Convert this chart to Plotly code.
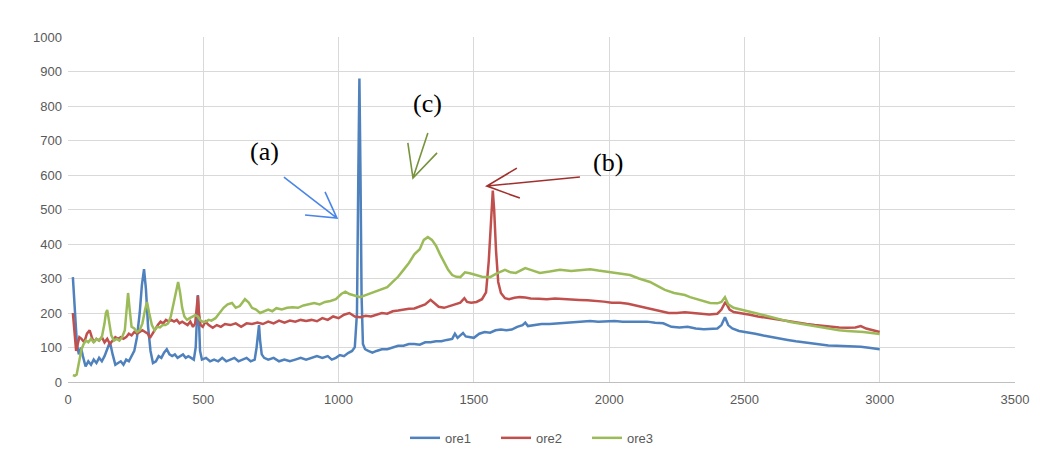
import plotly.graph_objects as go

# ---------------- data ----------------
ore1_x = [18, 26, 33, 40, 48, 55, 65, 75, 85, 95, 105, 115, 125, 135, 145, 155, 165, 175, 185, 195,
          205, 215, 225, 235, 245, 255, 265, 273, 281, 288, 296, 305, 314, 325, 335, 345, 355, 365, 375, 385,
          395, 405, 415, 425, 435, 445, 455, 465, 472, 477, 480, 484, 488, 495, 510, 525, 540, 555, 570, 585,
          600, 615, 630, 645, 660, 675, 690, 697, 702, 706, 710, 716, 725, 740, 760, 780, 800, 820, 840, 860,
          880, 900, 920, 940, 960, 975, 990, 1005, 1020, 1035, 1050, 1060, 1068, 1073, 1077, 1081, 1085, 1090, 1098, 1110,
          1125, 1140, 1160, 1180, 1200, 1220, 1240, 1260, 1280, 1300, 1320, 1340, 1360, 1380, 1400, 1420, 1430, 1440, 1450, 1460,
          1470, 1480, 1500, 1520, 1540, 1560, 1580, 1600, 1620, 1640, 1660, 1680, 1690, 1700, 1720, 1750, 1780, 1810, 1840, 1870,
          1900, 1930, 1960, 1990, 2020, 2050, 2080, 2110, 2140, 2170, 2200, 2230, 2260, 2290, 2320, 2350, 2380, 2400, 2415, 2428,
          2440, 2455, 2480, 2510, 2540, 2570, 2600, 2630, 2660, 2690, 2720, 2750, 2780, 2810, 2840, 2870, 2900, 2930, 2960, 3000]
ore1_y = [304, 200, 110, 80, 100, 75, 45, 60, 50, 65, 55, 70, 60, 75, 95, 116, 80, 50, 55, 60,
          50, 65, 60, 75, 90, 130, 200, 280, 327, 270, 160, 90, 55, 60, 75, 70, 85, 95, 80, 75,
          80, 70, 75, 80, 70, 75, 70, 65, 100, 200, 252, 180, 90, 65, 70, 60, 65, 60, 70, 60,
          65, 70, 60, 65, 70, 60, 65, 100, 150, 165, 120, 80, 70, 65, 70, 60, 65, 60, 65, 70,
          65, 70, 75, 70, 75, 65, 70, 78, 75, 84, 90, 101, 200, 600, 880, 600, 250, 110, 95, 90,
          85, 90, 95, 95, 100, 105, 105, 110, 110, 108, 115, 115, 118, 118, 122, 125, 140, 128, 135, 142,
          132, 130, 128, 140, 145, 143, 150, 152, 150, 152, 160, 165, 172, 162, 165, 168, 168, 170, 172, 175,
          177, 177, 175, 177, 177, 175, 175, 177, 175, 172, 170, 160, 158, 160, 155, 153, 153, 155, 165, 188,
          165, 155, 148, 145, 140, 135, 130, 125, 122, 118, 115, 110, 107, 106, 105, 104, 105, 102, 99, 95]

ore2_x = [18, 24, 30, 36, 42, 50, 60, 70, 80, 88, 95, 105, 115, 125, 135, 145, 155, 165, 175, 185,
          195, 205, 215, 225, 235, 245, 255, 265, 275, 285, 295, 303, 312, 322, 332, 342, 352, 362, 372, 382,
          392, 402, 412, 422, 432, 442, 452, 462, 470, 476, 480, 484, 490, 498, 508, 520, 535, 550, 565, 580,
          600, 620, 640, 660, 680, 700, 720, 740, 760, 780, 800, 820, 840, 860, 880, 900, 920, 940, 960, 980,
          1000, 1020, 1040, 1050, 1060, 1080, 1100, 1120, 1140, 1160, 1180, 1200, 1220, 1240, 1260, 1280, 1300, 1320, 1340, 1355,
          1370, 1390, 1410, 1430, 1450, 1465, 1475, 1490, 1510, 1530, 1545, 1555, 1565, 1570, 1575, 1582, 1590, 1600, 1615, 1630,
          1650, 1670, 1690, 1710, 1740, 1770, 1800, 1830, 1860, 1890, 1920, 1950, 1980, 2010, 2040, 2070, 2100, 2130, 2160, 2190,
          2220, 2250, 2280, 2310, 2340, 2370, 2400, 2415, 2430, 2445, 2460, 2490, 2520, 2550, 2580, 2610, 2640, 2670, 2700, 2730,
          2760, 2790, 2820, 2850, 2880, 2910, 2930, 2950, 2975, 3000]
ore2_y = [200, 150, 90, 110, 130, 125, 115, 140, 150, 130, 115, 125, 120, 130, 115, 125, 110, 120, 130, 125,
          130, 125, 130, 140, 135, 145, 140, 145, 150, 145, 140, 128, 140, 155, 165, 175, 170, 180, 175, 180,
          175, 180, 170, 175, 170, 165, 175, 160, 170, 220, 250, 200, 165, 160, 175, 165, 157, 165, 160, 168,
          165, 170, 160, 170, 168, 172, 168, 175, 170, 178, 172, 178, 175, 180, 177, 180, 176, 185, 180, 190,
          185, 195, 200, 195, 190, 188, 192, 190, 195, 200, 198, 205, 207, 210, 212, 213, 218, 225, 238, 228,
          218, 215, 220, 225, 230, 243, 232, 230, 232, 240, 260, 350, 500, 555, 500, 380, 290, 258, 243, 240,
          244, 246, 245, 242, 241, 240, 242, 240, 240, 238, 237, 236, 233, 230, 230, 227, 222, 217, 210, 205,
          200, 200, 202, 200, 197, 196, 198, 210, 232, 210, 203, 200, 195, 190, 186, 182, 178, 175, 172, 168,
          165, 162, 160, 158, 157, 158, 162, 155, 150, 145]

ore3_x = [18, 25, 32, 40, 50, 58, 66, 75, 85, 95, 105, 115, 125, 135, 140, 145, 152, 160, 170, 180,
          190, 200, 210, 217, 222, 228, 235, 245, 255, 265, 275, 285, 292, 300, 310, 320, 330, 340, 350, 360,
          370, 380, 390, 400, 407, 414, 422, 430, 440, 450, 460, 470, 480, 490, 500, 510, 520, 530, 545, 560,
          575, 590, 606, 620, 635, 654, 668, 680, 695, 710, 725, 740, 755, 770, 790, 810, 830, 850, 870, 890,
          910, 930, 950, 970, 990, 1010, 1025, 1040, 1060, 1080, 1100, 1120, 1140, 1160, 1180, 1200, 1220, 1240, 1260, 1280,
          1300, 1315, 1330, 1345, 1360, 1375, 1390, 1405, 1420, 1435, 1450, 1467, 1485, 1505, 1530, 1560, 1585, 1615, 1635, 1655,
          1675, 1690, 1710, 1744, 1780, 1818, 1860, 1900, 1930, 1960, 2003, 2040, 2077, 2110, 2151, 2180, 2206, 2240, 2280, 2299,
          2330, 2373, 2400, 2415, 2428, 2440, 2460, 2490, 2520, 2550, 2580, 2610, 2640, 2670, 2700, 2730, 2760, 2790, 2820, 2850,
          2880, 2910, 2940, 2970, 3000]
ore3_y = [20, 18, 22, 60, 95, 110, 120, 115, 125, 115, 125, 120, 130, 170, 200, 209, 175, 135, 120, 125,
          120, 130, 150, 210, 258, 210, 160, 155, 145, 150, 170, 210, 232, 200, 165, 150, 160, 158, 165, 165,
          170, 190, 230, 270, 290, 260, 215, 190, 180, 185, 190, 194, 190, 178, 174, 175, 180, 178, 185, 200,
          215, 225, 229, 215, 220, 240, 230, 215, 210, 200, 205, 210, 205, 214, 210, 215, 217, 215, 222, 225,
          229, 225, 232, 235, 240, 255, 262, 255, 250, 246, 252, 258, 262, 268, 275, 290, 305, 325, 345, 370,
          385, 412, 420, 412, 395, 370, 345, 325, 310, 305, 304, 318, 315, 310, 305, 304, 315, 325, 318, 316,
          325, 330, 325, 316, 320, 325, 322, 325, 327, 323, 319, 315, 310, 300, 290, 278, 267, 258, 252, 246,
          238, 229, 228, 232, 246, 225, 215, 210, 205, 198, 192, 185, 180, 174, 170, 165, 160, 156, 153, 150,
          148, 147, 145, 142, 139]

series_names = ["ore1", "ore2", "ore3"]
series_colors = ["#4F81BD", "#C0504D", "#9BBB59"]

x_ticks = [0, 500, 1000, 1500, 2000, 2500, 3000, 3500]
y_ticks = [0, 100, 200, 300, 400, 500, 600, 700, 800, 900, 1000]

# annotation labels and the points they refer to (data units)
labels = ["(a)", "(c)", "(b)"]
label_x = [728, 1330, 1996]
label_y = [667, 806, 635]
arrow_colors = ["#4A86E8", "#77933C", "#A0302D"]
# arrow tail, tip, head-barb endpoints
arrow_tail = [(798, 594), (1330, 722), (1892, 594)]
arrow_tip = [(994, 475), (1275, 591), (1548, 568)]
arrow_barb1 = [(950, 551), (1256, 693), (1659, 620)]
arrow_barb2 = [(876, 484), (1364, 664), (1670, 533)]

# ---------------- figure ----------------
fig = go.Figure()
for xs, ys, name, col in zip([ore1_x, ore2_x, ore3_x], [ore1_y, ore2_y, ore3_y], series_names, series_colors):
    fig.add_trace(go.Scatter(x=xs, y=ys, mode="lines", name=name,
                             line=dict(color=col, width=2.5)))

shapes = []
for tail, tip, b1, b2, col in zip(arrow_tail, arrow_tip, arrow_barb1, arrow_barb2, arrow_colors):
    path = (f"M {tail[0]},{tail[1]} L {tip[0]},{tip[1]} "
            f"M {b1[0]},{b1[1]} L {tip[0]},{tip[1]} L {b2[0]},{b2[1]}")
    shapes.append(dict(type="path", path=path, xref="x", yref="y",
                       line=dict(color=col, width=1.6)))

annotations = []
for t, lx, ly in zip(labels, label_x, label_y):
    annotations.append(dict(text=t, x=lx, y=ly, xref="x", yref="y", showarrow=False,
                            font=dict(family="Liberation Serif", size=26, color="#000000")))

fig.update_layout(
    width=1040, height=466,
    margin=dict(l=60, r=33, t=29, b=92),
    paper_bgcolor="white", plot_bgcolor="white",
    showlegend=True,
    legend=dict(orientation="h", x=0.5, xanchor="center", y=-0.162, yanchor="middle",
                font=dict(family="Liberation Sans", size=13, color="#595959"),
                itemwidth=30, tracegroupgap=0, entrywidth=46, entrywidthmode="pixels"),
    shapes=shapes,
    annotations=annotations,
    font=dict(family="Liberation Sans", size=12, color="#595959"),
)
fig.update_xaxes(range=[0, 3500], tickvals=x_ticks, showgrid=True, gridcolor="#D9D9D9",
                 gridwidth=1, zeroline=False, showline=True, linecolor="#BFBFBF",
                 ticklabelstandoff=5, automargin=False,
                 tickfont=dict(size=13, color="#595959"))
fig.update_yaxes(range=[0, 1000], tickvals=y_ticks, showgrid=True, gridcolor="#D9D9D9",
                 gridwidth=1, zeroline=False, showline=False,
                 ticklabelstandoff=5, automargin=False,
                 tickfont=dict(size=13, color="#595959"))

fig.write_html("out.html")
